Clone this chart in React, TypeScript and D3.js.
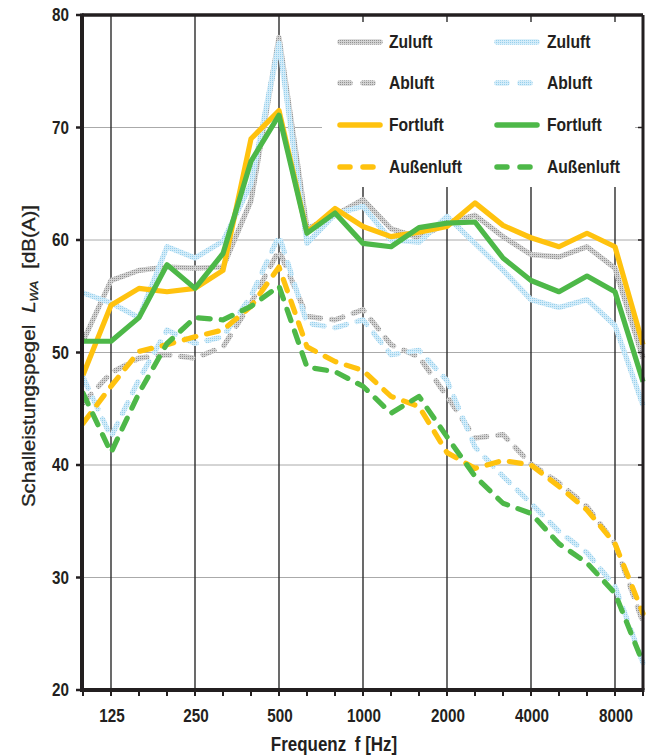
import React from 'react';
import * as d3 from 'd3';

// third-octave bands, 100 Hz .. 10 kHz
const freqs = ['100', '125', '160', '200', '250', '315', '400', '500', '630', '800', '1000',
  '1250', '1600', '2000', '2500', '3150', '4000', '5000', '6300', '8000', '10000'];
const octaveLabels = ['125', '250', '500', '1000', '2000', '4000', '8000'];
const yTicks = [20, 30, 40, 50, 60, 70, 80];

// unit 1 (grey / orange)
const zuluft1 = [51, 56.4, 57.3, 57.6, 57.5, 57.6, 63.5, 78, 61, 62.2, 63.6, 61, 60.2, 61.5, 62.2, 60.3, 58.7, 58.5, 59.4, 57.5, 49.5];
const abluft1 = [45.5, 48.2, 49.5, 49.8, 49.5, 50.5, 54.4, 59.1, 53.2, 52.9, 53.8, 50.7, 49.6, 46.1, 42.4, 42.7, 40.1, 38.4, 36.3, 33, 26];
const fortluft1 = [48, 54.2, 55.7, 55.4, 55.7, 57.3, 69, 71.5, 60.7, 62.8, 61.2, 60.3, 60.7, 61.2, 63.3, 61.3, 60.2, 59.4, 60.6, 59.4, 50.7];
const aussenluft1 = [43.7, 47, 50.1, 50.7, 51.4, 52, 54.1, 57.6, 50.5, 49.2, 48.4, 46.1, 45.2, 41.1, 39.7, 40.4, 40, 38.1, 36, 33, 26.8];

// unit 2 (blue / green)
const zuluft2 = [55.3, 54.4, 53.1, 59.4, 58.4, 59.9, 65, 77.5, 59.7, 62.3, 63, 60, 59.8, 62.1, 59.7, 57.3, 54.7, 54, 54.7, 52.4, 45.3];
const abluft2 = [47.8, 42.5, 47.6, 52, 50.8, 51.4, 55, 60.4, 52.6, 52.2, 52.9, 49.8, 50.2, 47.5, 41.6, 39, 36.6, 34.1, 32.2, 29.2, 22.4];
const fortluft2 = [51, 51, 53.1, 57.8, 55.7, 58.8, 67, 71.1, 60.6, 62.4, 59.7, 59.4, 61.1, 61.5, 61.6, 58.4, 56.4, 55.4, 56.8, 55.4, 47.4];
const aussenluft2 = [46.4, 41.1, 46.4, 50.8, 53.1, 52.9, 54.1, 55.9, 48.7, 48.3, 47, 44.6, 46.1, 42.5, 39, 36.6, 35.7, 33, 31.3, 28.6, 22.4];

const W = 648, H = 755;
const left = 83, right = 643, top = 15, bottom = 690;

const x = d3.scalePoint<string>().domain(freqs).range([left, right]);
const y = d3.scaleLinear().domain([20, 80]).range([bottom, top]);

const line = d3.line<number>().x((d, i) => x(freqs[i]) as number).y(d => y(d));

const font = '"Liberation Sans", Arial, sans-serif';
const INK = '#231f20';
const DASH = '12 11';
const SX = 0.87; // the original text is a bit narrow

const series = [
  { name: 'Zuluft', values: zuluft1, stroke: 'url(#hatchGrey)', dash: null },
  { name: 'Abluft', values: abluft1, stroke: 'url(#hatchGrey)', dash: DASH },
  { name: 'Zuluft', values: zuluft2, stroke: 'url(#hatchBlue)', dash: null },
  { name: 'Abluft', values: abluft2, stroke: 'url(#hatchBlue)', dash: DASH },
  { name: 'Fortluft', values: fortluft1, stroke: '#ffc20e', dash: null },
  { name: 'Außenluft', values: aussenluft1, stroke: '#ffc20e', dash: DASH },
  { name: 'Fortluft', values: fortluft2, stroke: '#4db848', dash: null },
  { name: 'Außenluft', values: aussenluft2, stroke: '#4db848', dash: DASH },
];

const legendCols = [
  { lx: 337, tx: 389, items: [series[0], series[1], series[4], series[5]] },
  { lx: 494, tx: 547, items: [series[2], series[3], series[6], series[7]] },
];
const legendRows = [42, 83, 125, 167];

function T(props: { x: number; y: number; size: number; anchor?: string; children: any }) {
  return (
    <text transform={`translate(${props.x},${props.y}) scale(${SX},1)`} textAnchor={props.anchor || 'start'}
      fontSize={props.size} fontWeight="bold" fill={INK}>
      {props.children}
    </text>
  );
}

export default function App() {
  return (
    <svg width={W} height={H} style={{ position: 'absolute', left: 0, top: 0 }} fontFamily={font}>
      <defs>
        <pattern id="hatchGrey" patternUnits="userSpaceOnUse" width="2" height="2">
          <rect width="2" height="2" fill="#d2d2d2" />
          <rect width="1" height="1" fill="#929292" />
        </pattern>
        <pattern id="hatchBlue" patternUnits="userSpaceOnUse" width="2" height="2">
          <rect width="2" height="2" fill="#d3ecf9" />
          <rect width="1" height="1" fill="#96cfec" />
        </pattern>
      </defs>
      <rect width={W} height={H} fill="#fff" />

      {/* horizontal grid */}
      {yTicks.map(t => (
        <line key={'h' + t} x1={left} x2={right} y1={y(t)} y2={y(t)} stroke="#aaa" strokeWidth={1} />
      ))}
      {/* octave lines */}
      {octaveLabels.map(f => (
        <line key={'v' + f} x1={x(f)} x2={x(f)} y1={top} y2={bottom} stroke="#2b2b2b" strokeWidth={1.4} />
      ))}

      {/* legend box hides grid */}
      <rect x={322} y={22} width={313} height={165} fill="#fff" />

      {series.map((s, i) => (
        <path key={i} d={line(s.values) || ''} fill="none" stroke={s.stroke} strokeWidth={5.2}
          strokeDasharray={s.dash || undefined} strokeLinejoin="round"
          strokeLinecap={s.dash ? 'round' : 'butt'} />
      ))}

      {/* frame */}
      <line x1={left - 1} x2={right} y1={top} y2={top} stroke={INK} strokeWidth={3.5} />
      <line x1={right} x2={right} y1={top} y2={bottom} stroke={INK} strokeWidth={3} />
      <line x1={left - 1} x2={left - 1} y1={top - 1.5} y2={bottom + 2} stroke={INK} strokeWidth={4} />
      <line x1={left - 3} x2={right + 1.5} y1={bottom} y2={bottom} stroke={INK} strokeWidth={4} />

      {/* y ticks */}
      {yTicks.map(t => (
        <g key={'yt' + t}>
          <line x1={left - 7} x2={left} y1={y(t)} y2={y(t)} stroke={INK} strokeWidth={2.5} />
          <line x1={right - 5} x2={right} y1={y(t)} y2={y(t)} stroke={INK} strokeWidth={1.5} />
          <T x={69} y={y(t) + 6} size={17.5} anchor="end">{t}</T>
        </g>
      ))}
      {/* x ticks */}
      {freqs.map(f => (
        <line key={'xt' + f} x1={x(f)} x2={x(f)} y1={bottom} y2={bottom + 6} stroke={INK} strokeWidth={2} />
      ))}
      {octaveLabels.map(f => (
        <T key={'xl' + f} x={(x(f) as number) + 1} y={722} size={17.5} anchor="middle">{f}</T>
      ))}
      <T x={334} y={751} size={19.5} anchor="middle">
        <tspan>Frequenz</tspan>
        <tspan dx={10}>f [Hz]</tspan>
      </T>

      {/* y axis title */}
      <text transform="translate(35,356) scale(0.85,1) rotate(-90)" textAnchor="middle" fontSize={20.5}
        fill={INK} stroke={INK} strokeWidth={0.35}>
        <tspan>Schalleistungspegel</tspan>
        <tspan dx={12} fontStyle="italic">L</tspan>
        <tspan fontSize={13} dy={4} fontStyle="italic">WA</tspan>
        <tspan dx={12} dy={-4}>[dB(A)]</tspan>
      </text>

      {/* legend */}
      {legendCols.map((c, ci) => (
        <g key={'lc' + ci}>
          {c.items.map((s, ri) => (
            <g key={ri}>
              <line x1={c.lx + 3} x2={c.lx + 43} y1={legendRows[ri]} y2={legendRows[ri]} stroke={s.stroke}
                strokeWidth={5.5} strokeDasharray={s.dash ? '10 13' : undefined} strokeLinecap="round" />
              <T x={c.tx} y={legendRows[ri] + 6} size={18}>{s.name}</T>
            </g>
          ))}
        </g>
      ))}
    </svg>
  );
}
